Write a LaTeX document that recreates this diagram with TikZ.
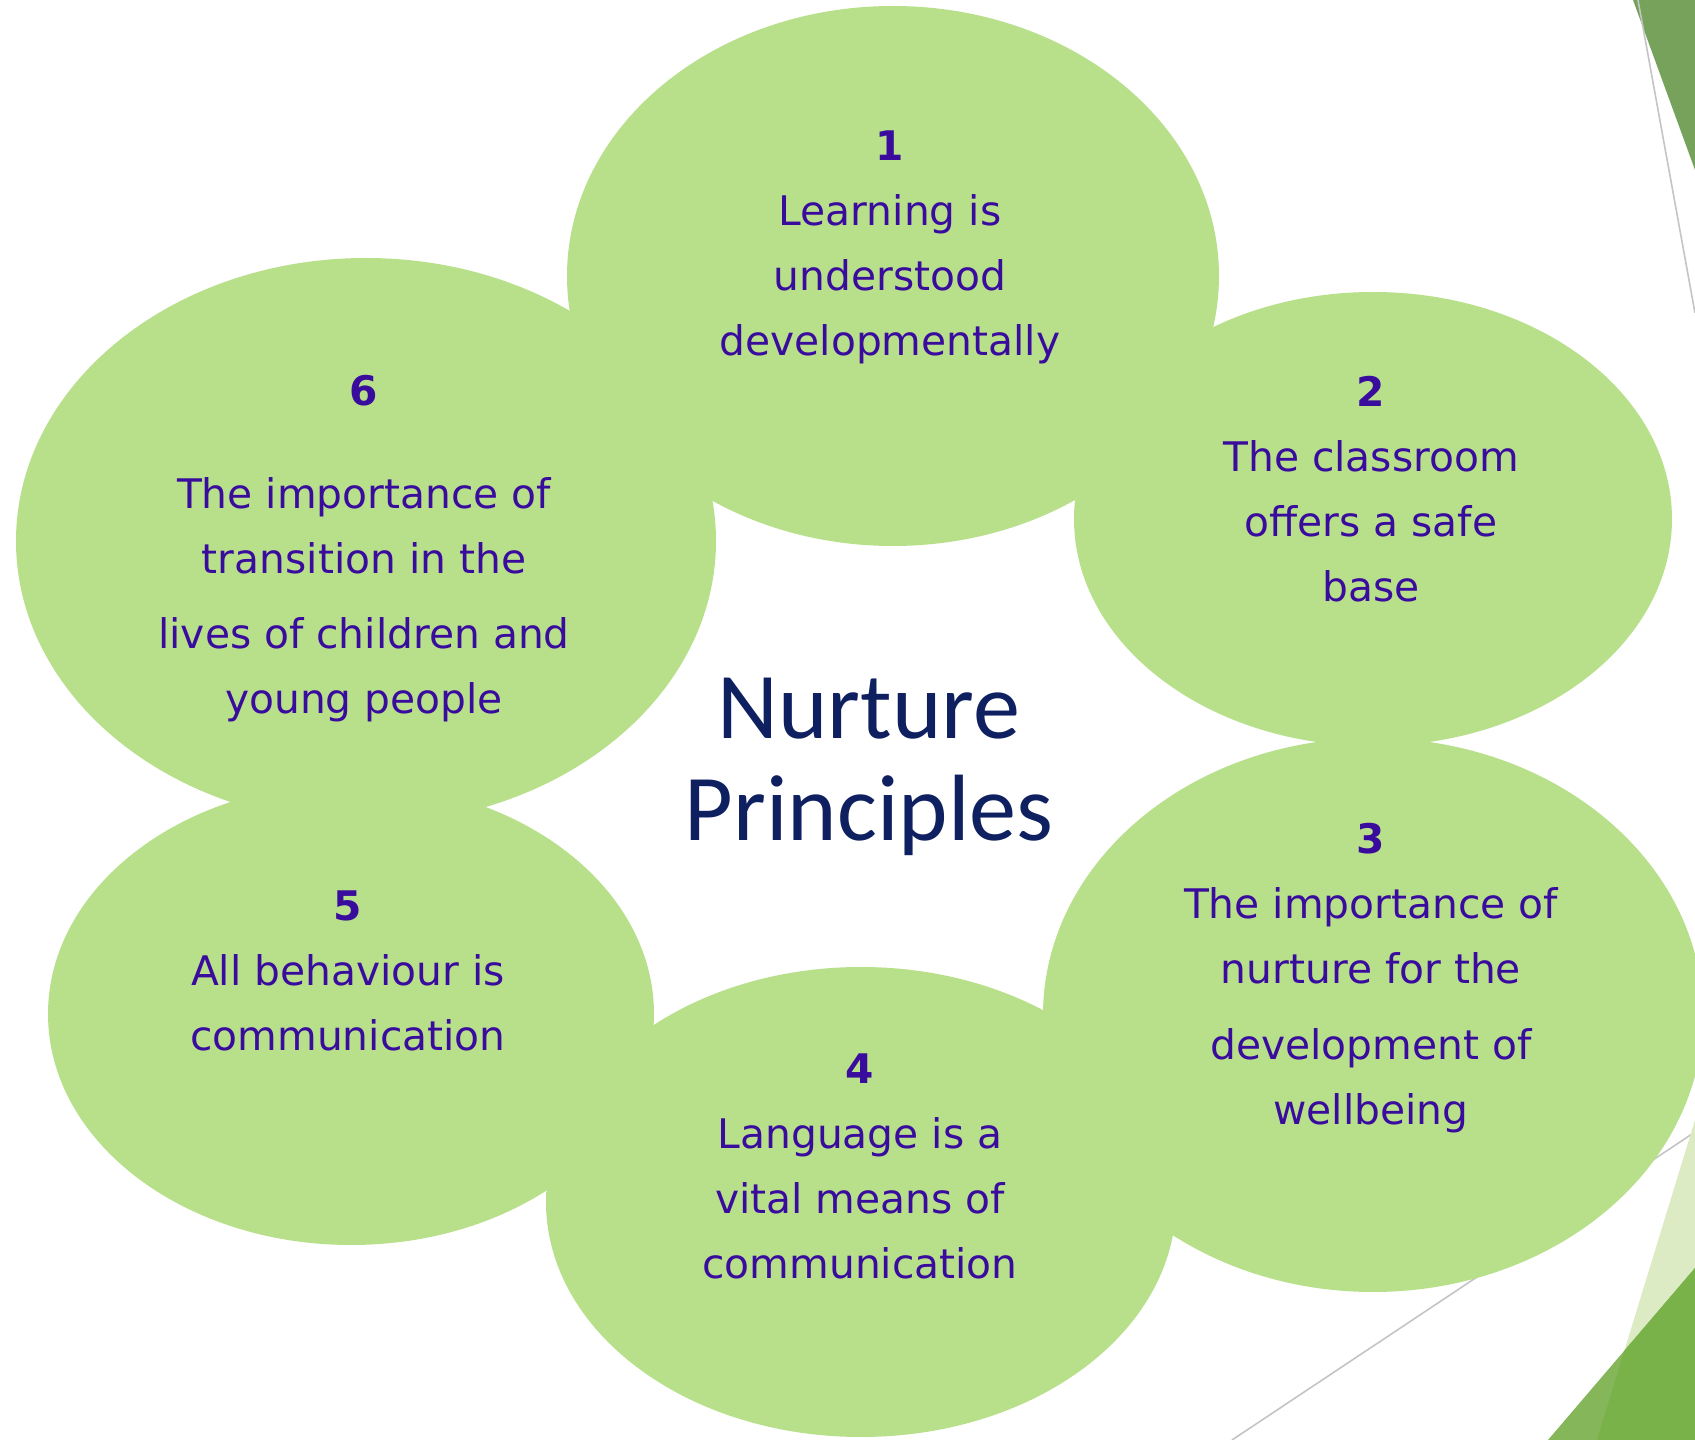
\documentclass[tikz,border=0pt]{standalone}
\usepackage{fontspec}
\newfontfamily\bodyfont{DejaVu Sans}
\newfontfamily\titlefont{Carlito}
\usetikzlibrary{shapes.geometric}
\definecolor{petal}{RGB}{184,224,139}
\definecolor{ink}{RGB}{58,12,158}
\definecolor{navy}{RGB}{14,32,96}
\definecolor{leafdark}{RGB}{118,162,92}
\definecolor{leafmid}{RGB}{133,183,90}
\definecolor{leafdeep}{RGB}{122,178,74}
\definecolor{leaflight}{RGB}{221,235,196}
\definecolor{rule}{RGB}{196,196,196}
\begin{document}
\begin{tikzpicture}[x=0.1mm,y=-0.1mm,
  petalshape/.style={ellipse, fill=petal, draw=none, inner sep=0pt},
  txt/.style={text=ink, align=center, inner sep=0pt,
    font=\bodyfont\fontsize{11.6}{18.5}\selectfont},
  heading/.style={text=navy, align=center, inner sep=0pt,
    font=\titlefont\fontsize{26.8}{29}\selectfont},
  thinrule/.style={draw=rule, line width=0.45pt}]
% canvas
\fill[white] (0,0) rectangle (1695,1440);
\useasboundingbox (0,0) rectangle (1695,1440);

% corner decorations
\fill[leafdark] (1633,0) -- (1695,0) -- (1695,170) -- cycle;
\draw[thinrule] (1638,0) -- (1695,313);
\draw[thinrule] (1232,1440) -- (1695,1132);
\fill[leaflight] (1695,1120) -- (1597,1440) -- (1695,1440) -- cycle;
\fill[leafmid] (1548,1440) -- (1695,1268) -- (1695,1440) -- cycle;
\begin{scope}
  \clip (1548,1440) -- (1695,1268) -- (1695,1440) -- cycle;
  \fill[leafdeep] (1695,1120) -- (1597,1440) -- (1695,1440) -- cycle;
\end{scope}

% petals
\node[petalshape, minimum width=65.2mm, minimum height=54.0mm] (e1) at (893,276) {};
\node[petalshape, minimum width=59.8mm, minimum height=45.4mm] (e2) at (1373,519) {};
\node[petalshape, minimum width=66.0mm, minimum height=55.4mm] (e3) at (1373,1015) {};
\node[petalshape, minimum width=63.0mm, minimum height=47.0mm] (e4) at (861,1202) {};
\node[petalshape, minimum width=60.6mm, minimum height=46.2mm] (e5) at (351,1014) {};
\node[petalshape, minimum width=70.0mm, minimum height=56.6mm] (e6) at (366,541) {};

% petal texts
\node[txt] (t1) at (890,247.5) {\textbf{1}\\Learning is\\understood\\developmentally};
\node[txt] (t2) at (1371,489) {\textbf{2}\\The classroom\\offers a safe\\base};
\node[txt] (t3) at (1371,978) {\textbf{3}\\The importance of\\nurture for the\\[3.1pt]development of\\wellbeing};
\node[txt] (t4) at (860,1166) {\textbf{4}\\Language is a\\vital means of\\communication};
\node[txt] (t5) at (348,971) {\textbf{5}\\All behaviour is\\communication};
\node[txt] (t6) at (364,548.5) {\textbf{6}\\[10.8pt]The importance of\\transition in the\\[2.8pt]lives of children and\\young people};

% centre title
\node[heading] (title) at (869,767) {Nurture\\Principles};
\end{tikzpicture}
\end{document}
